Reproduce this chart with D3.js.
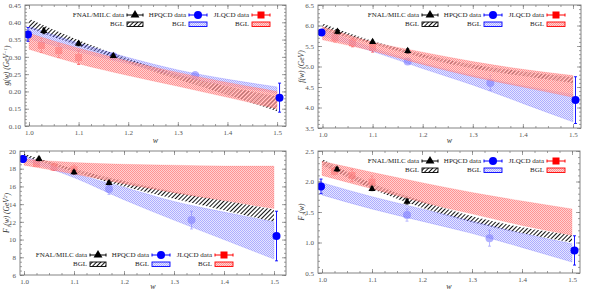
<!DOCTYPE html>
<html>
<head>
<meta charset="utf-8">
<script src="https://cdn.jsdelivr.net/npm/d3@7"></script>
<style>
  body { margin: 0; background: #fff; }
  text { font-family: "Liberation Serif", "DejaVu Serif", serif; }
</style>
</head>
<body>
<svg id="chart" width="591" height="295"></svg>
<script>
// ---------------- data ----------------
var bandW  = [1.0, 1.1, 1.2, 1.3, 1.4, 1.5];
var fnalW  = [1.03, 1.10, 1.17];
var hpqcdW = [0.998, 1.17, 1.335, 1.505];
var jlqcdW = [1.025, 1.06, 1.10];

// g(w)
var g_fnal = [0.375, 0.338, 0.303],            g_fnal_err = [0.008, 0.006, 0.005];
var g_hpqcd = [0.365, 0.302, 0.247, 0.182],    g_hpqcd_err = [0.02, 0.005, 0.01, 0.042];
var g_jlqcd = [0.333, 0.318, 0.298],           g_jlqcd_err = [0.02, 0.02, 0.02];
var g_bgl_fnal_hi = [0.41, 0.348, 0.295, 0.25, 0.215, 0.185];
var g_bgl_fnal_lo = [0.383, 0.332, 0.283, 0.235, 0.19, 0.143];
var g_bgl_hp_hi = [0.388, 0.34, 0.298, 0.262, 0.235, 0.213];
var g_bgl_hp_lo = [0.352, 0.315, 0.28, 0.245, 0.218, 0.195];
var g_bgl_jl_hi = [0.368, 0.325, 0.288, 0.255, 0.226, 0.2];
var g_bgl_jl_lo = [0.322, 0.28, 0.246, 0.215, 0.183, 0.15];

// f(w)
var f_fnal = [5.85, 5.6, 5.38],                f_fnal_err = [0.05, 0.04, 0.05];
var f_hpqcd = [5.83, 5.12, 4.6, 4.18],         f_hpqcd_err = [0.07, 0.05, 0.18, 0.57];
var f_jlqcd = [5.7, 5.58, 5.47],               f_jlqcd_err = [0.1, 0.1, 0.12];
var f_bgl_fnal_hi = [6.05, 5.62, 5.3, 5.05, 4.88, 4.74];
var f_bgl_fnal_lo = [5.88, 5.55, 5.22, 4.95, 4.77, 4.6];
var f_bgl_hp_hi = [5.9, 5.45, 5.08, 4.78, 4.53, 4.32];
var f_bgl_hp_lo = [5.75, 5.37, 4.95, 4.55, 4.1, 3.65];
var f_bgl_jl_hi = [5.97, 5.6, 5.35, 5.12, 4.93, 4.78];
var f_bgl_jl_lo = [5.65, 5.38, 5.05, 4.75, 4.5, 4.25];

// F1(w)
var F1_fnal = [19.1, 17.6, 16.4],              F1_fnal_err = [0.2, 0.2, 0.2];
var F1_hpqcd = [19.1, 15.7, 12.2, 10.4],       F1_hpqcd_err = [0.35, 0.6, 1.0, 2.8];
var F1_jlqcd = [18.6, 18.2, 17.9],             F1_jlqcd_err = [0.3, 0.4, 0.5];
var F1_bgl_fnal_hi = [19.7, 18.0, 16.6, 15.4, 14.4, 13.4];
var F1_bgl_fnal_lo = [19.4, 17.6, 16.0, 14.6, 13.3, 12.0];
var F1_bgl_hp_hi = [19.4, 17.5, 15.9, 14.3, 13.1, 12.0];
var F1_bgl_hp_lo = [19.0, 17.0, 14.5, 12.2, 10.0, 7.8];
var F1_bgl_jl_hi = [19.1, 18.7, 18.5, 18.4, 18.3, 18.3];
var F1_bgl_jl_lo = [18.4, 17.4, 16.3, 15.3, 14.4, 13.5];

// F2(w)
var F2_fnal = [2.2, 1.88, 1.67],               F2_fnal_err = [0.03, 0.03, 0.04];
var F2_hpqcd = [1.92, 1.45, 1.07, 0.87],       F2_hpqcd_err = [0.12, 0.1, 0.13, 0.24];
var F2_jlqcd = [2.17, 2.1, 1.99],              F2_jlqcd_err = [0.06, 0.1, 0.1];
var F2_bgl_fnal_hi = [2.37, 1.97, 1.68, 1.43, 1.25, 1.12];
var F2_bgl_fnal_lo = [2.27, 1.88, 1.57, 1.33, 1.15, 1.0];
var F2_bgl_hp_hi = [1.98, 1.75, 1.55, 1.35, 1.15, 0.98];
var F2_bgl_hp_lo = [1.78, 1.55, 1.35, 1.15, 0.92, 0.68];
var F2_bgl_jl_hi = [2.33, 2.15, 1.98, 1.82, 1.68, 1.55];
var F2_bgl_jl_lo = [2.1, 1.88, 1.66, 1.47, 1.28, 1.12];

var xMajor = [1.0, 1.1, 1.2, 1.3, 1.4, 1.5];
var legendNames = ["FNAL/MILC data", "HPQCD data", "JLQCD data"];

// ---------------- layout ----------------
var panels = [
  { x0: 25, x1: 286, y0: 5, y1: 126, xd: [0.992, 1.518], yd: [0.10, 0.45], yStep: 0.05, yMinor: 0.01, fmt: ".2f",
    ylab: ["g(w) (GeV", "−1", ")"], lx: 6, xlabY: 143, leg: { dx: 0, y: 15 },
    fnal: g_fnal, fnalE: g_fnal_err, hp: g_hpqcd, hpE: g_hpqcd_err, jl: g_jlqcd, jlE: g_jlqcd_err,
    bf: [g_bgl_fnal_lo, g_bgl_fnal_hi], bh: [g_bgl_hp_lo, g_bgl_hp_hi], bj: [g_bgl_jl_lo, g_bgl_jl_hi] },
  { x0: 318, x1: 581, y0: 5, y1: 128, xd: [0.991, 1.516], yd: [3.5, 6.5], yStep: 0.5, yMinor: 0.1, fmt: ".1f",
    ylab: ["f(w) (GeV", "", ")"], lx: 301, xlabY: 143, leg: { dx: 295, y: 15 },
    fnal: f_fnal, fnalE: f_fnal_err, hp: f_hpqcd, hpE: f_hpqcd_err, jl: f_jlqcd, jlE: f_jlqcd_err,
    bf: [f_bgl_fnal_lo, f_bgl_fnal_hi], bh: [f_bgl_hp_lo, f_bgl_hp_hi], bj: [f_bgl_jl_lo, f_bgl_jl_hi] },
  { x0: 20, x1: 286, y0: 151, y1: 275, xd: [0.992, 1.524], yd: [6, 20], yStep: 2, yMinor: 0.5, fmt: "d",
    ylab: ["F₁(w) (GeV", "2", ")"], lx: 6, xlabY: 289, leg: { dx: -37, y: 255 },
    fnal: F1_fnal, fnalE: F1_fnal_err, hp: F1_hpqcd, hpE: F1_hpqcd_err, jl: F1_jlqcd, jlE: F1_jlqcd_err,
    bf: [F1_bgl_fnal_lo, F1_bgl_fnal_hi], bh: [F1_bgl_hp_lo, F1_bgl_hp_hi], bj: [F1_bgl_jl_lo, F1_bgl_jl_hi] },
  { x0: 318, x1: 580, y0: 151, y1: 273, xd: [0.992, 1.516], yd: [0.5, 2.5], yStep: 0.5, yMinor: 0.1, fmt: ".1f",
    ylab: ["F₂(w)", "", ""], lx: 301, xlabY: 289, leg: { dx: 295, y: 161 },
    fnal: F2_fnal, fnalE: F2_fnal_err, hp: F2_hpqcd, hpE: F2_hpqcd_err, jl: F2_jlqcd, jlE: F2_jlqcd_err,
    bf: [F2_bgl_fnal_lo, F2_bgl_fnal_hi], bh: [F2_bgl_hp_lo, F2_bgl_hp_hi], bj: [F2_bgl_jl_lo, F2_bgl_jl_hi] }
];

var svg = d3.select("#chart");

// ---------------- patterns ----------------
var defs = svg.append("defs");
var pb = defs.append("pattern").attr("id", "hatchBlack").attr("patternUnits", "userSpaceOnUse")
    .attr("width", 3).attr("height", 3).attr("patternTransform", "rotate(45)");
pb.append("rect").attr("width", 1).attr("height", 3).attr("fill", "#111");

function checker(id, base, dot) {
  var p = defs.append("pattern").attr("id", id).attr("patternUnits", "userSpaceOnUse")
      .attr("width", 2).attr("height", 2);
  p.append("rect").attr("width", 2).attr("height", 2).attr("fill", base);
  p.append("rect").attr("width", 1).attr("height", 1).attr("fill", dot);
  p.append("rect").attr("x", 1).attr("y", 1).attr("width", 1).attr("height", 1).attr("fill", dot);
}
checker("chkBlue", "rgba(150,150,255,0.25)", "rgba(95,95,255,0.42)");
checker("chkRed", "rgba(255,180,180,0.62)", "rgba(255,105,105,0.6)");

var frameCol = "#777";

panels.forEach(function(p) {
  var x = d3.scaleLinear().domain(p.xd).range([p.x0, p.x1]);
  var y = d3.scaleLinear().domain(p.yd).range([p.y1, p.y0]);
  var g = svg.append("g");

  // axes
  var yMaj = d3.range(p.yd[0], p.yd[1] + p.yStep / 2, p.yStep);
  var yMin = d3.range(p.yd[0], p.yd[1] + p.yMinor / 2, p.yMinor);
  var xMin = d3.range(1.0, p.xd[1], 0.025);

  function styleAx(sel) {
    sel.select(".domain").remove();
    sel.selectAll("line").attr("stroke", frameCol).attr("stroke-width", 0.7);
    sel.selectAll("text").attr("fill", "#555").style("font-size", "7px")
      .style("font-family", "'Liberation Serif','DejaVu Serif',serif");
  }
  g.append("g").attr("transform", "translate(0," + p.y1 + ")")
    .call(d3.axisBottom(x).tickValues(xMajor).tickFormat(d3.format(".1f")).tickSize(-4).tickPadding(4)).call(styleAx);
  g.append("g").attr("transform", "translate(0," + p.y1 + ")")
    .call(d3.axisBottom(x).tickValues(xMin).tickFormat("").tickSize(-2)).call(styleAx);
  g.append("g").attr("transform", "translate(0," + p.y0 + ")")
    .call(d3.axisTop(x).tickValues(xMajor).tickFormat("").tickSize(-4)).call(styleAx);
  g.append("g").attr("transform", "translate(0," + p.y0 + ")")
    .call(d3.axisTop(x).tickValues(xMin).tickFormat("").tickSize(-2)).call(styleAx);
  g.append("g").attr("transform", "translate(" + p.x0 + ",0)")
    .call(d3.axisLeft(y).tickValues(yMaj).tickFormat(d3.format(p.fmt)).tickSize(-4).tickPadding(4)).call(styleAx);
  g.append("g").attr("transform", "translate(" + p.x0 + ",0)")
    .call(d3.axisLeft(y).tickValues(yMin).tickFormat("").tickSize(-2)).call(styleAx);
  g.append("g").attr("transform", "translate(" + p.x1 + ",0)")
    .call(d3.axisRight(y).tickValues(yMaj).tickFormat("").tickSize(-4)).call(styleAx);
  g.append("g").attr("transform", "translate(" + p.x1 + ",0)")
    .call(d3.axisRight(y).tickValues(yMin).tickFormat("").tickSize(-2)).call(styleAx);

  // axis titles
  var yl = g.append("text").attr("transform", "translate(" + p.lx + "," + ((p.y0 + p.y1) / 2) + ") rotate(-90)")
    .attr("text-anchor", "middle").attr("dy", "0.35em").attr("fill", "#333")
    .style("font-size", "7.5px").style("font-style", "italic");
  yl.append("tspan").text(p.ylab[0]);
  if (p.ylab[1]) yl.append("tspan").attr("dy", "-0.35em").style("font-size", "5px").text(p.ylab[1]);
  if (p.ylab[2]) yl.append("tspan").attr("dy", p.ylab[1] ? "0.35em" : 0).text(p.ylab[2]);
  g.append("text").attr("x", (p.x0 + p.x1) / 2).attr("y", p.xlabY).attr("text-anchor", "middle")
    .attr("fill", "#333").style("font-size", "8px").style("font-style", "italic").text("w");

  var plot = g.append("g");
  var clipId = "clip" + p.x0 + "_" + p.y0;
  defs.append("clipPath").attr("id", clipId).append("rect")
    .attr("x", p.x0).attr("y", p.y0).attr("width", p.x1 - p.x0).attr("height", p.y1 - p.y0);
  plot.attr("clip-path", "url(#" + clipId + ")");

  var area = d3.area().x(function(d) { return x(d.w); })
    .y0(function(d) { return y(d.lo); }).y1(function(d) { return y(d.hi); })
    .curve(d3.curveMonotoneX);
  function bandData(b) { return bandW.map(function(w, i) { return { w: w, lo: b[0][i], hi: b[1][i] }; }); }

  function errBars(sel, ws, vs, es, col, op) {
    ws.forEach(function(w, i) {
      var cx = x(w);
      var lines = [[cx, y(vs[i] - es[i]), cx, y(vs[i] + es[i])],
                   [cx - 1.5, y(vs[i] - es[i]), cx + 1.5, y(vs[i] - es[i])],
                   [cx - 1.5, y(vs[i] + es[i]), cx + 1.5, y(vs[i] + es[i])]];
      lines.forEach(function(l) {
        sel.append("line").attr("x1", l[0]).attr("y1", l[1]).attr("x2", l[2]).attr("y2", l[3])
          .attr("stroke", col).attr("stroke-width", 0.9).attr("opacity", op);
      });
    });
  }
  function inside(w) { return w > 1.0 && w < 1.5; }

  // black BGL band
  plot.append("path").datum(bandData(p.bf)).attr("d", area).attr("fill", "url(#hatchBlack)");

  // points that sit under the coloured bands (they show through faded)
  var under = plot.append("g");
  var jlG = under.append("g").attr("opacity", 0.6);
  errBars(jlG, jlqcdW, p.jl, p.jlE, "#f00", 1);
  jlG.selectAll("rect.jl").data(jlqcdW).enter().append("rect")
    .attr("x", function(w) { return x(w) - 3.5; })
    .attr("y", function(w, i) { return y(p.jl[i]) - 3.5; })
    .attr("width", 7).attr("height", 7).attr("fill", "#f22");
  var hpG = under.append("g").attr("opacity", 0.3);
  hpqcdW.forEach(function(w, i) {
    if (!inside(w)) return;
    errBars(hpG, [w], [p.hp[i]], [p.hpE[i]], "#00f", 1);
    hpG.append("circle").attr("cx", x(w)).attr("cy", y(p.hp[i])).attr("r", 4).attr("fill", "#00f");
  });

  // coloured BGL bands
  plot.append("path").datum(bandData(p.bh)).attr("d", area).attr("fill", "url(#chkBlue)")
    .attr("stroke", "rgba(80,80,255,0.4)").attr("stroke-width", 0.5);
  plot.append("path").datum(bandData(p.bj)).attr("d", area).attr("fill", "url(#chkRed)")
    .attr("stroke", "rgba(255,80,80,0.35)").attr("stroke-width", 0.5);

  // points on top
  hpqcdW.forEach(function(w, i) {
    if (inside(w)) return;
    errBars(plot, [w], [p.hp[i]], [p.hpE[i]], "#00f", 1);
    plot.append("circle").attr("cx", x(w)).attr("cy", y(p.hp[i])).attr("r", 4).attr("fill", "#00f");
  });
  errBars(plot, fnalW, p.fnal, p.fnalE, "#000", 1);
  plot.selectAll("path.fn").data(fnalW).enter().append("path")
    .attr("transform", function(w, i) { return "translate(" + x(w) + "," + y(p.fnal[i]) + ")"; })
    .attr("d", d3.symbol().type(d3.symbolTriangle).size(22)).attr("fill", "#000");

  // frame
  g.append("rect").attr("x", p.x0).attr("y", p.y0).attr("width", p.x1 - p.x0).attr("height", p.y1 - p.y0)
    .attr("fill", "none").attr("stroke", frameCol).attr("stroke-width", 0.9);

  // legend
  var L = g.append("g").attr("transform", "translate(" + p.leg.dx + "," + p.leg.y + ")");
  var ent = [
    { te: 124, k0: 127, k1: 143, col: "#000", fill: "url(#hatchBlack)" },
    { te: 186, k0: 189, k1: 207, col: "#00f", fill: "url(#chkBlue)" },
    { te: 249, k0: 252, k1: 270, col: "#f00", fill: "url(#chkRed)" }
  ];
  ent.forEach(function(e, i) {
    L.append("text").attr("x", e.te).attr("y", 0).attr("dy", "0.35em").attr("text-anchor", "end")
      .attr("fill", "#222").style("font-size", "7px").text(legendNames[i]);
    L.append("text").attr("x", e.te).attr("y", 9).attr("dy", "0.35em").attr("text-anchor", "end")
      .attr("fill", "#222").style("font-size", "7px").text("BGL");
    L.append("line").attr("x1", e.k0).attr("x2", e.k1).attr("y1", 0).attr("y2", 0)
      .attr("stroke", e.col).attr("stroke-width", 1);
    [e.k0, e.k1].forEach(function(xx) {
      L.append("line").attr("x1", xx).attr("x2", xx).attr("y1", -1.5).attr("y2", 1.5)
        .attr("stroke", e.col).attr("stroke-width", 1);
    });
    var cx = (e.k0 + e.k1) / 2;
    if (i === 0) L.append("path").attr("transform", "translate(" + cx + ",0)")
      .attr("d", d3.symbol().type(d3.symbolTriangle).size(34)).attr("fill", "#000");
    if (i === 1) L.append("circle").attr("cx", cx).attr("cy", 0).attr("r", 4).attr("fill", "#00f");
    if (i === 2) L.append("rect").attr("x", cx - 3.5).attr("y", -3.5).attr("width", 7).attr("height", 7).attr("fill", "#f00");
    L.append("rect").attr("x", e.k0).attr("y", 7).attr("width", e.k1 - e.k0).attr("height", 4.5)
      .attr("fill", e.fill).attr("stroke", e.col).attr("stroke-width", 0.9);
  });
});
</script>
</body>
</html>
